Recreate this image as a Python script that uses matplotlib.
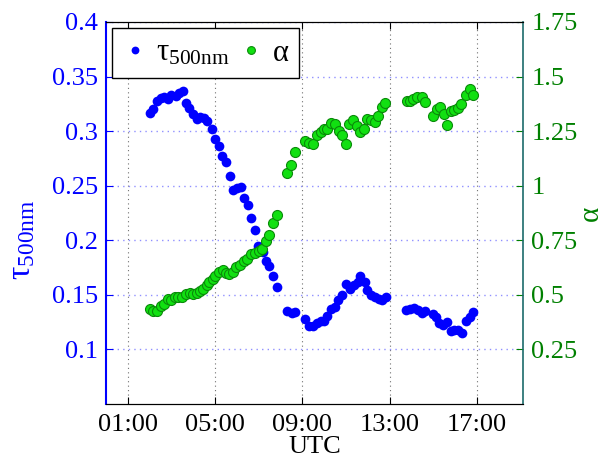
import matplotlib
matplotlib.use("Agg")
import matplotlib.pyplot as plt
from matplotlib.lines import Line2D

plt.rcParams["font.family"] = ["Liberation Serif", "DejaVu Serif"]
plt.rcParams["mathtext.fontset"] = "custom"
plt.rcParams["mathtext.rm"] = "Liberation Serif"
plt.rcParams["mathtext.it"] = "Liberation Serif:italic"

# time of day in hours (UTC)
tau_time = [2.01, 2.16, 2.34, 2.50, 2.65, 2.85, 2.99, 3.20, 3.35, 3.51, 3.66, 3.81, 3.99,
            4.15, 4.30, 4.48, 4.64, 4.84, 4.99, 5.16, 5.31, 5.49, 5.66, 5.83, 6.01, 6.17,
            6.32, 6.50, 6.65, 6.81, 6.97, 7.20, 7.31, 7.48, 7.65, 7.82, 8.30, 8.50, 8.66,
            9.12, 9.31, 9.50, 9.65, 9.84, 9.99, 10.14, 10.30, 10.48, 10.64, 10.81, 11.00,
            11.18, 11.36, 11.55, 11.64, 11.85, 11.97, 12.13, 12.31, 12.50, 12.65, 12.83,
            13.75, 13.93, 14.11, 14.30, 14.48, 14.63, 14.97, 15.12, 15.27, 15.45, 15.64,
            15.80, 15.95, 16.13, 16.31, 16.47, 16.65, 16.80]
tau_500 = [0.317, 0.320, 0.328, 0.330, 0.331, 0.329, 0.333, 0.332, 0.335, 0.337, 0.326, 0.321,
           0.316, 0.311, 0.313, 0.312, 0.309, 0.302, 0.293, 0.286, 0.277, 0.272, 0.259, 0.246,
           0.248, 0.249, 0.239, 0.232, 0.220, 0.209, 0.195, 0.189, 0.181, 0.176, 0.167, 0.157,
           0.135, 0.133, 0.134, 0.128, 0.121, 0.121, 0.124, 0.126, 0.126, 0.131, 0.137, 0.139,
           0.145, 0.150, 0.160, 0.155, 0.159, 0.162, 0.167, 0.162, 0.154, 0.150, 0.148, 0.146,
           0.145, 0.148, 0.136, 0.137, 0.138, 0.136, 0.133, 0.135, 0.132, 0.130, 0.124, 0.122,
           0.125, 0.117, 0.118, 0.118, 0.115, 0.126, 0.130, 0.134]

alpha_time = [2.01, 2.16, 2.34, 2.50, 2.65, 2.83, 2.99, 3.17, 3.32, 3.48, 3.66, 3.84, 3.99,
              4.15, 4.30, 4.45, 4.61, 4.73, 4.88, 5.00, 5.16, 5.34, 5.49, 5.64, 5.80, 5.95,
              6.14, 6.32, 6.47, 6.65, 6.84, 6.99, 7.14, 7.33, 7.48, 7.65, 7.82, 8.30, 8.48,
              8.64, 9.13, 9.31, 9.47, 9.65, 9.84, 9.99, 10.14, 10.32, 10.48, 10.66, 10.81,
              11.00, 11.15, 11.33, 11.49, 11.64, 11.82, 11.97, 12.16, 12.31, 12.46, 12.65,
              12.80, 13.77, 13.93, 14.08, 14.26, 14.48, 14.63, 14.97, 15.15, 15.31, 15.46,
              15.64, 15.80, 15.95, 16.13, 16.28, 16.47, 16.65, 16.80]
angstrom = [0.437, 0.428, 0.428, 0.449, 0.458, 0.480, 0.476, 0.489, 0.492, 0.489, 0.504, 0.507,
            0.504, 0.510, 0.516, 0.528, 0.544, 0.559, 0.574, 0.586, 0.605, 0.614, 0.599, 0.596,
            0.605, 0.626, 0.638, 0.657, 0.666, 0.687, 0.693, 0.700, 0.709, 0.748, 0.776, 0.828,
            0.867, 1.057, 1.094, 1.156, 1.206, 1.197, 1.191, 1.232, 1.247, 1.260, 1.260, 1.289,
            1.284, 1.252, 1.232, 1.192, 1.284, 1.301, 1.274, 1.247, 1.261, 1.304, 1.301, 1.293,
            1.319, 1.362, 1.378, 1.387, 1.390, 1.396, 1.408, 1.408, 1.384, 1.319, 1.353, 1.362,
            1.329, 1.280, 1.341, 1.347, 1.356, 1.374, 1.417, 1.442, 1.417]

xticks = [1, 5, 9, 13, 17]
xticklabels = ["01:00", "05:00", "09:00", "13:00", "17:00"]
tau_ticks = [0.1, 0.15, 0.2, 0.25, 0.3, 0.35, 0.4]
alpha_ticks = [0.25, 0.5, 0.75, 1, 1.25, 1.5, 1.75]

BLUE = "#0000FF"
GREEN = "#008000"
LIME = "#11E011"
FS = 19

fig = plt.figure(figsize=(6.04, 4.58), dpi=100)
ax = fig.add_axes([0.1755, 0.118, 0.6904, 0.834])
ax2 = ax.twinx()

ax.plot(tau_time, tau_500, "o", color=BLUE, markersize=7, markeredgewidth=0)
ax2.plot(alpha_time, angstrom, "o", markerfacecolor=LIME, markeredgecolor="#0A8A0A",
         markersize=7.2, markeredgewidth=0.8)

ax.set_xlim(0, 19.1)
ax.set_ylim(0.05, 0.4)
ax2.set_ylim(0, 1.75)

ax.set_xticks(xticks)
ax.set_xticklabels(xticklabels)
ax.set_yticks(tau_ticks)
ax.set_yticklabels(["0.1", "0.15", "0.2", "0.25", "0.3", "0.35", "0.4"])
ax2.set_yticks(alpha_ticks)
ax2.set_yticklabels(["0.25", "0.5", "0.75", "1", "1.25", "1.5", "1.75"])

# grid: bluish horizontal, grey vertical
ax.yaxis.grid(True, linestyle=(0, (1, 3)), color="#9090FF", linewidth=1.0)
ax.xaxis.grid(True, linestyle=(0, (1, 3)), color="#707070", linewidth=0.8)
ax.set_axisbelow(True)

ax.tick_params(axis="x", direction="in", length=5, labelsize=FS, top=True, pad=7)
ax.tick_params(axis="y", direction="in", length=5, labelsize=FS, colors=BLUE, pad=6)
ax2.tick_params(axis="y", direction="in", length=5, labelsize=FS, colors=GREEN, pad=6)

ax.spines["left"].set_color(BLUE)
ax.spines["left"].set_linewidth(1.5)
ax2.spines["left"].set_visible(False)
ax2.spines["right"].set_color("#1B6B6B")
ax2.spines["right"].set_linewidth(1.2)
ax.spines["right"].set_visible(False)

ax.set_xlabel("UTC", fontsize=FS, labelpad=0)
ax.set_ylabel("τ$_{\\rm 500nm}$", fontsize=FS + 5, color=BLUE)
ax.yaxis.set_label_coords(-0.165, 0.43)
ax2.set_ylabel("α", fontsize=FS + 2, color=GREEN, labelpad=0)

handles = [
    Line2D([], [], linestyle="none", marker="o", color=BLUE, markersize=7, markeredgewidth=0),
    Line2D([], [], linestyle="none", marker="o", markerfacecolor=LIME,
           markeredgecolor="#0A8A0A", markersize=7, markeredgewidth=0.8),
]
leg = ax2.legend(handles, ["τ$_{\\rm 500nm}$", "α"], loc="upper left", ncol=2,
                 bbox_to_anchor=(0.0144, 0.984), borderaxespad=0, fontsize=FS + 3,
                 frameon=True, fancybox=False, edgecolor="black", framealpha=1,
                 handlelength=0.8, handletextpad=0.3, columnspacing=0.3,
                 borderpad=0.35, markerscale=0.8)
leg.get_frame().set_linewidth(1.0)

plt.savefig("out.png", dpi=100)
